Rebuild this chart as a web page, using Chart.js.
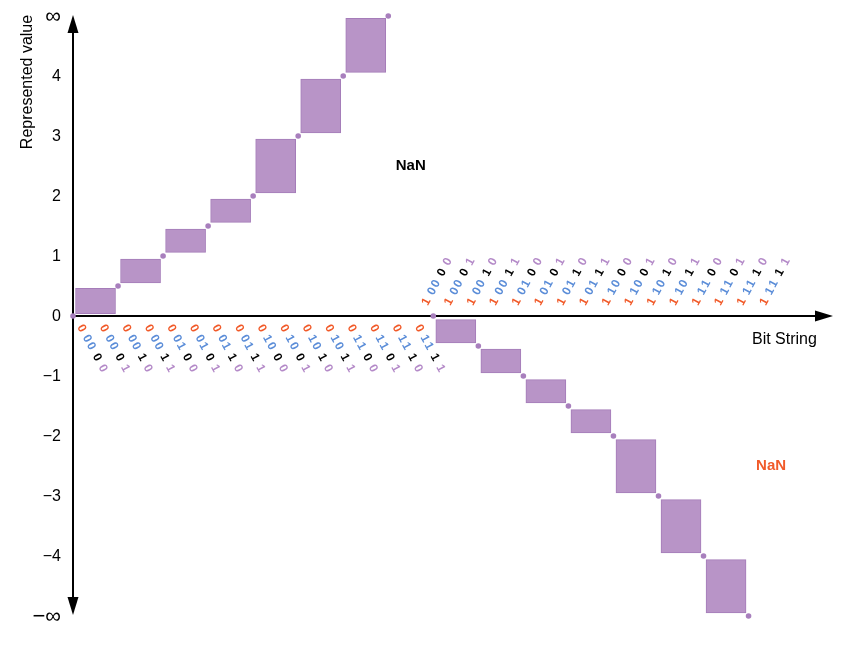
<!DOCTYPE html>
<html><head><meta charset="utf-8">
<script src="https://cdn.jsdelivr.net/npm/chart.js@4.4.1/dist/chart.umd.min.js"></script>
<style>html,body{margin:0;padding:0;background:#fff;}canvas{display:block}</style>
</head><body>
<canvas id="c" width="844" height="657"></canvas>
<script>
// ---- data ----
const bitStrings = ['00000','00001','00010','00011','00100','00101','00110','00111',
                    '01000','01001','01010','01011','01100','01101','01110','01111',
                    '10000','10001','10010','10011','10100','10101','10110','10111',
                    '11000','11001','11010','11011','11100','11101','11110','11111'];
// exact values (dots); ±5 stands for ±∞ on the axis
const dotIndex  = [0, 2, 4, 6, 8, 10, 12, 14, 16, 18, 20, 22, 24, 26, 28, 30];
const dotValues = [0, 0.5, 1, 1.5, 2, 3, 4, 5, 0, -0.5, -1, -1.5, -2, -3, -4, -5];
// open intervals (boxes)
const boxIndex = [1, 3, 5, 7, 9, 11, 13, 17, 19, 21, 23, 25, 27, 29];
const boxLow   = [0.04, 0.55, 1.06, 1.56, 2.05, 3.05, 4.06, -0.45, -0.95, -1.45, -1.95, -2.95, -3.95, -4.95];
const boxHigh  = [0.46, 0.95, 1.45, 1.95, 2.95, 3.95, 4.96, -0.06, -0.55, -1.06, -1.56, -2.06, -3.06, -4.06];
// NaN labels
const nanIndex = [15, 31];
const nanValue = [2.5, -2.5];
const nanColor = ['#000000', '#f15a29'];
// y ticks
const yTickValues = [-5, -4, -3, -2, -1, 0, 1, 2, 3, 4, 5];
const yTickLabels = ['\u2212\u221E', '\u22124', '\u22123', '\u22122', '\u22121', '0', '1', '2', '3', '4', '\u221E'];
const xAxisTitle = 'Bit String';
const yAxisTitle = 'Represented value';
const bitColors = ['#f15a29', '#5b8dd8', '#5b8dd8', '#000000', '#b48ac8'];

const X_MAX = 33.75, Y_MIN = -5, Y_MAX = 5;

const FONT = '"Liberation Sans", Arial, sans-serif';

const drawPlugin = {
  id: 'drawPlugin',
  beforeDatasetsDraw(chart) {
    const ctx = chart.ctx, xs = chart.scales.x, ys = chart.scales.y;
    const x0 = xs.getPixelForValue(0), y0 = ys.getPixelForValue(0);
    const yTop = ys.getPixelForValue(Y_MAX) - 1, yBot = ys.getPixelForValue(Y_MIN) - 1;
    const xEnd = xs.getPixelForValue(X_MAX);
    ctx.save();
    ctx.strokeStyle = '#000'; ctx.fillStyle = '#000'; ctx.lineWidth = 2;
    ctx.beginPath(); ctx.moveTo(x0, yTop + 10); ctx.lineTo(x0, yBot - 10); ctx.stroke();
    ctx.beginPath(); ctx.moveTo(x0, y0); ctx.lineTo(xEnd - 10, y0); ctx.stroke();
    // arrows
    ctx.beginPath(); ctx.moveTo(x0, yTop); ctx.lineTo(x0 - 5.5, yTop + 18); ctx.lineTo(x0 + 5.5, yTop + 18); ctx.closePath(); ctx.fill();
    ctx.beginPath(); ctx.moveTo(x0, yBot); ctx.lineTo(x0 - 5.5, yBot - 18); ctx.lineTo(x0 + 5.5, yBot - 18); ctx.closePath(); ctx.fill();
    ctx.beginPath(); ctx.moveTo(xEnd, y0); ctx.lineTo(xEnd - 18, y0 - 5.5); ctx.lineTo(xEnd - 18, y0 + 5.5); ctx.closePath(); ctx.fill();
    ctx.restore();
  },
  afterDraw(chart) {
    const ctx = chart.ctx, xs = chart.scales.x, ys = chart.scales.y;
    const y0 = ys.getPixelForValue(0);
    ctx.save();
    // y tick labels
    ctx.fillStyle = '#000';
    ctx.textAlign = 'right'; ctx.textBaseline = 'middle';
    yTickValues.forEach((v, k) => {
      const lab = yTickLabels[k];
      const inf = lab.indexOf('\u221E') >= 0;
      ctx.font = (inf ? '22px ' : '16px ') + FONT;
      ctx.fillText(lab, 61, ys.getPixelForValue(v) + (inf ? 1 : 1));
    });
    // axis titles
    ctx.font = '16px ' + FONT;
    ctx.save();
    ctx.translate(28, 82); ctx.rotate(-Math.PI / 2);
    ctx.textAlign = 'center'; ctx.textBaseline = 'middle';
    ctx.fillText(yAxisTitle, 0, 0);
    ctx.restore();
    ctx.textAlign = 'left'; ctx.textBaseline = 'middle';
    ctx.fillText(xAxisTitle, 752, 340);
    // bit string labels
    const offs = [0, 11.8, 20.2, 33, 45.3];
    ctx.font = 'bold 12px ' + FONT;
    ctx.textAlign = 'center'; ctx.textBaseline = 'middle';
    bitStrings.forEach((s, i) => {
      const xp = xs.getPixelForValue(i);
      const neg = s[0] === '1';
      const ang = (neg ? -62 : 62) * Math.PI / 180;
      const sx = neg ? xp - 6.8 : xp + 8.5;
      const sy = neg ? y0 - 14.3 : y0 + 12.3;
      for (let c = 0; c < 5; c++) {
        const cx = sx + Math.cos(ang) * offs[c];
        const cy = sy + Math.sin(ang) * offs[c];
        ctx.save();
        ctx.translate(cx, cy); ctx.rotate(ang);
        ctx.fillStyle = bitColors[c];
        ctx.fillText(s[c], 0, 0);
        ctx.restore();
      }
    });
    // NaN
    ctx.font = 'bold 15px ' + FONT;
    nanIndex.forEach((i, k) => {
      ctx.fillStyle = nanColor[k];
      ctx.fillText('NaN', xs.getPixelForValue(i), ys.getPixelForValue(nanValue[k]));
    });
    ctx.restore();
  }
};

new Chart(document.getElementById('c'), {
  type: 'bar',
  data: {
    datasets: [
      {
        type: 'bar',
        data: boxIndex.map((x, k) => ({ x: x, y: [boxLow[k], boxHigh[k]] })),
        backgroundColor: '#b894c7',
        borderColor: '#a57cb9',
        borderWidth: 1,
        borderSkipped: false,
        barThickness: 40,
        grouped: false,
        clip: false,
        order: 2
      },
      {
        type: 'scatter',
        data: dotIndex.map((x, k) => ({ x: x, y: dotValues[k] })),
        backgroundColor: '#a87fbd',
        borderColor: '#a87fbd',
        borderWidth: 0,
        pointRadius: 2.8,
        pointStyle: 'circle',
        showLine: false,
        clip: false,
        order: 1
      }
    ]
  },
  options: {
    responsive: false,
    animation: false,
    devicePixelRatio: 1,
    layout: { padding: { left: 73, right: 11, top: 16, bottom: 41 } },
    plugins: { legend: { display: false }, tooltip: { enabled: false }, title: { display: false } },
    scales: {
      x: { type: 'linear', min: 0, max: X_MAX, display: false, offset: false },
      y: { type: 'linear', min: Y_MIN, max: Y_MAX, display: false }
    }
  },
  plugins: [drawPlugin]
});
</script>
</body></html>
